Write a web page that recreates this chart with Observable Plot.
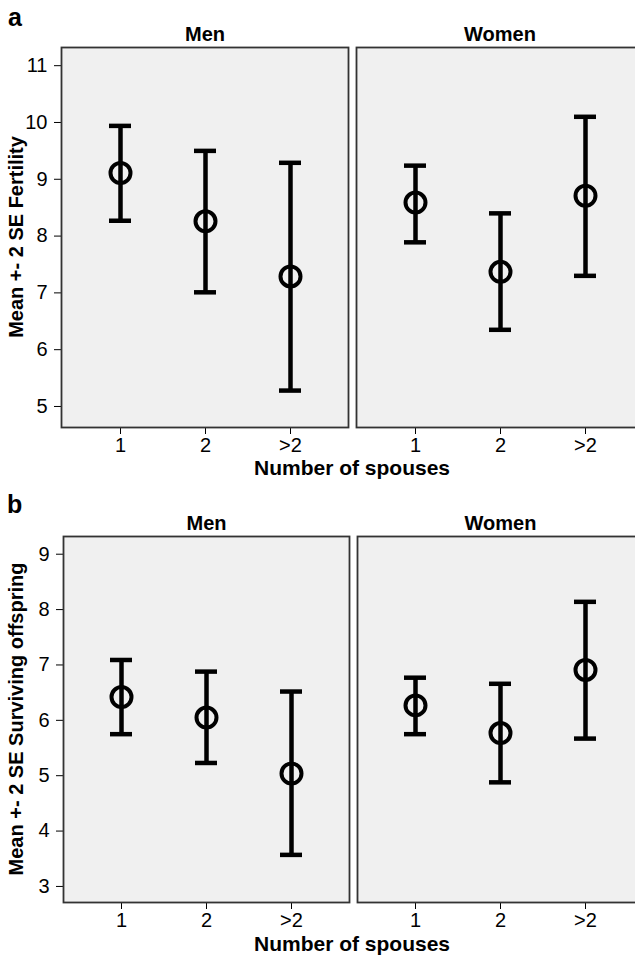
<!DOCTYPE html>
<html>
<head>
<meta charset="utf-8">
<script src="https://cdn.jsdelivr.net/npm/d3@7"></script>
<script src="https://cdn.jsdelivr.net/npm/@observablehq/plot@0.6"></script>
<style>
html, body { margin: 0; padding: 0; background: #fff; overflow: hidden; }
#wrap { position: relative; width: 644px; height: 956px; font-family: "Liberation Sans", Arial, sans-serif; }
.plotbox { position: absolute; left: 0; width: 644px; }
#overlay { position: absolute; left: 0; top: 0; pointer-events: none; }
</style>
</head>
<body>
<div id="wrap">
  <div class="plotbox" id="pa" style="top:0px"></div>
  <div class="plotbox" id="pb" style="top:478px"></div>
</div>
<script>
// ---- categories ----
const spouses = ["1", "2", ">2"];
const sexes = ["Men", "Women"];

// ---- panel a: fertility (mean, mean-2SE, mean+2SE) ----
const fertMenMean   = [9.11, 8.26, 7.29];
const fertMenLo     = [8.27, 7.01, 5.28];
const fertMenHi     = [9.94, 9.50, 9.29];
const fertWomenMean = [8.59, 7.37, 8.71];
const fertWomenLo   = [7.89, 6.35, 7.30];
const fertWomenHi   = [9.24, 8.40, 10.10];
const fertTicks     = [5, 6, 7, 8, 9, 10, 11];

// ---- panel b: surviving offspring ----
const survMenMean   = [6.42, 6.05, 5.04];
const survMenLo     = [5.75, 5.23, 3.57];
const survMenHi     = [7.09, 6.88, 6.52];
const survWomenMean = [6.27, 5.77, 6.91];
const survWomenLo   = [5.75, 4.88, 5.67];
const survWomenHi   = [6.77, 6.66, 8.14];
const survTicks     = [3, 4, 5, 6, 7, 8, 9];

// ---- texts ----
const panelLetters = ["a", "b"];
const xTitle = "Number of spouses";
const yTitles = ["Mean +- 2 SE Fertility", "Mean +- 2 SE Surviving offspring"];

function rows(menMean, menLo, menHi, womenMean, womenLo, womenHi) {
  const out = [];
  spouses.forEach((s, i) => {
    out.push({sex: "Men", spouses: s, mean: menMean[i], lo: menLo[i], hi: menHi[i]});
  });
  spouses.forEach((s, i) => {
    out.push({sex: "Women", spouses: s, mean: womenMean[i], lo: womenLo[i], hi: womenHi[i]});
  });
  return out;
}

const FONT = '"Liberation Sans", Arial, sans-serif';

function panel(data, yDomain, yTicks, mLeft, mTop, mBottom) {
  return Plot.plot({
    width: 644,
    height: 478,
    marginLeft: mLeft,
    marginRight: 0,
    marginTop: mTop,
    marginBottom: mBottom,
    style: {fontFamily: FONT, fontSize: "20px", color: "#000", background: "transparent", overflow: "visible", maxWidth: "none"},
    fx: {domain: sexes, paddingInner: 0.027, paddingOuter: 0, axis: null, label: null},
    x: {domain: spouses, type: "band", paddingInner: 0.744, paddingOuter: 0.5465, tickSize: 7, tickPadding: 3, label: null},
    y: {domain: yDomain, ticks: yTicks, tickFormat: d3.format("d"), tickSize: 7, tickPadding: 7, label: null},
    marks: [
      Plot.frame({fill: "#f0f0f0", stroke: "#333", strokeWidth: 1.8}),
      Plot.text(sexes, {fx: d => d, text: d => d, frameAnchor: "top", dy: -13, lineAnchor: "middle", fontWeight: "bold", fontSize: 20, fill: "#000"}),
      Plot.ruleX(data, {fx: "sex", x: "spouses", y1: "lo", y2: "hi", stroke: "#000", strokeWidth: 4.5}),
      Plot.tickY(data, {fx: "sex", x: "spouses", y: "lo", stroke: "#000", strokeWidth: 4.5}),
      Plot.tickY(data, {fx: "sex", x: "spouses", y: "hi", stroke: "#000", strokeWidth: 4.5}),
      Plot.dot(data, {fx: "sex", x: "spouses", y: "mean", r: 10, stroke: "#000", strokeWidth: 4, fill: "none"})
    ]
  });
}

const dataA = rows(fertMenMean, fertMenLo, fertMenHi, fertWomenMean, fertWomenLo, fertWomenHi);
const dataB = rows(survMenMean, survMenLo, survMenHi, survWomenMean, survWomenLo, survWomenHi);

document.getElementById("pa").append(panel(dataA, [4.63, 11.32], fertTicks, 60, 47, 51));
document.getElementById("pb").append(panel(dataB, [2.71, 9.32], survTicks, 62, 58, 54));

// ---- overlay titles ----
const svg = d3.select("#wrap").append("svg")
  .attr("id", "overlay").attr("width", 644).attr("height", 956)
  .style("font-family", FONT);

const letterPos = [{x: 8, y: 26}, {x: 7, y: 513}];
panelLetters.forEach((t, i) => {
  svg.append("text").attr("x", letterPos[i].x).attr("y", letterPos[i].y)
    .attr("font-size", 25).attr("font-weight", "bold").text(t);
});
[475, 951].forEach(y => {
  svg.append("text").attr("x", 352).attr("y", y).attr("text-anchor", "middle")
    .attr("font-size", 21).attr("font-weight", "bold").text(xTitle);
});
[237, 719].forEach((cy, i) => {
  svg.append("text").attr("transform", `translate(23,${cy}) rotate(-90)`)
    .attr("text-anchor", "middle").attr("font-size", 20).attr("font-weight", "bold").text(yTitles[i]);
});
</script>
</body>
</html>
